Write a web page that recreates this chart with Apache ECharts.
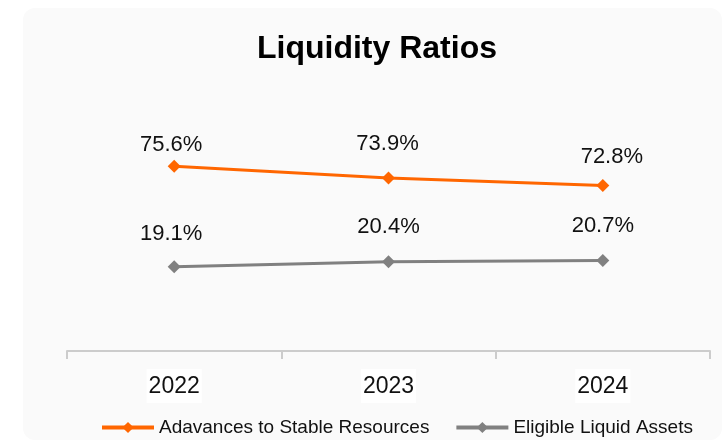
<!DOCTYPE html>
<html>
<head>
<meta charset="utf-8">
<script src="https://cdn.jsdelivr.net/npm/echarts@6/dist/echarts.min.js"></script>
<style>
  html, body { margin: 0; padding: 0; background: #ffffff; }
  #chart { width: 723px; height: 442px; }
</style>
</head>
<body>
<div id="chart"></div>
<script>
// data
const years = ["2022", "2023", "2024"];
const advances = [75.6, 73.9, 72.8];
const eligible = [19.1, 20.4, 20.7];
// label nudges so labels sit where the original puts them
const advOffsets = [[-3, 13], [-1, 0], [9, 6]];
const eligOffsets = [[-3, 2], [0, 0], [0, 0]];

const FONT = "Liberation Sans";

const chart = echarts.init(document.getElementById("chart"));

const options = {
  animation: false,
  graphic: [
    {
      type: "rect",
      z: -10,
      shape: { x: 23, y: 8, width: 699, height: 432, r: 12 },
      style: { fill: "#fafafa" },
    },
  ],
  title: {
    text: "Liquidity Ratios",
    left: 372,
    top: 28,
    textAlign: "center",
    textStyle: { fontFamily: FONT, fontWeight: "bold", fontSize: 32, color: "#000" },
  },
  legend: {
    left: 100,
    top: 418,
    padding: 0,
    itemWidth: 52,
    itemHeight: 14,
    itemGap: 25,
    lineStyle: { width: 4 },
    textStyle: { fontFamily: FONT, fontSize: 19, color: "#111" },
    data: ["Adavances to Stable Resources", "Eligible Liquid Assets"],
  },
  grid: { left: 67, right: 13, top: 80, bottom: 91 },
  xAxis: {
    type: "category",
    data: years,
    boundaryGap: true,
    axisLine: { onZero: false, lineStyle: { color: "#cccccc", width: 2 } },
    axisTick: { show: true, length: 8, lineStyle: { color: "#cccccc", width: 2 } },
    axisLabel: {
      margin: 18,
      fontFamily: FONT,
      fontSize: 23,
      color: "#111",
      backgroundColor: "#ffffff",
      padding: [6, 2, 5, 2],
    },
  },
  yAxis: [
    { type: "value", show: false, min: 49, max: 88, splitLine: { show: false } },
    { type: "value", show: false, min: -3, max: 68, splitLine: { show: false } },
  ],
  series: [
    {
      name: "Adavances to Stable Resources",
      type: "line",
      yAxisIndex: 0,
      symbol: "diamond",
      symbolSize: 13,
      color: "#ff6600",
      lineStyle: { width: 3, color: "#ff6600" },
      label: {
        show: true,
        position: "top",
        distance: 17,
        fontFamily: FONT,
        fontSize: 22,
        color: "#111",
        formatter: (p) => p.value.toFixed(1) + "%",
      },
      data: advances.map((v, i) => ({ value: v, label: { offset: advOffsets[i] } })),
    },
    {
      name: "Eligible Liquid Assets",
      type: "line",
      yAxisIndex: 1,
      symbol: "diamond",
      symbolSize: 13,
      color: "#808080",
      lineStyle: { width: 3, color: "#808080" },
      label: {
        show: true,
        position: "top",
        distance: 17,
        fontFamily: FONT,
        fontSize: 22,
        color: "#111",
        formatter: (p) => p.value.toFixed(1) + "%",
      },
      data: eligible.map((v, i) => ({ value: v, label: { offset: eligOffsets[i] } })),
    },
  ],
};

options && chart.setOption(options);
</script>
</body>
</html>
